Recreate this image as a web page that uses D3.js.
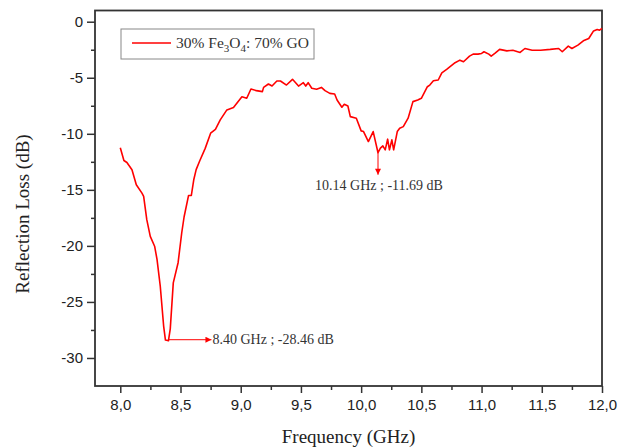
<!DOCTYPE html>
<html>
<head>
<meta charset="utf-8">
<script src="https://cdn.jsdelivr.net/npm/d3@7"></script>
<style>
  body { margin: 0; background: #fff; }
  .axis text { font-family: "Liberation Sans", Arial, sans-serif; font-size: 15px; fill: #222; }
  .axis path { display: none; }
  .axis line { stroke: #333; stroke-width: 1.5; }
</style>
</head>
<body>
<div id="chart"></div>
<script>
// values
const freq = [8.00, 8.03, 8.055, 8.097, 8.133, 8.18, 8.194, 8.22, 8.249, 8.285, 8.305, 8.332, 8.36, 8.375, 8.40,
  8.415, 8.44, 8.48, 8.51, 8.53, 8.567, 8.59, 8.61, 8.63, 8.66, 8.705, 8.75, 8.79, 8.83, 8.885, 8.94,
  9.01, 9.05, 9.085, 9.13, 9.18, 9.19, 9.23, 9.26, 9.30, 9.33, 9.38, 9.43, 9.48, 9.52, 9.54, 9.56, 9.59,
  9.63, 9.67, 9.70, 9.74, 9.78, 9.80, 9.84, 9.86, 9.89, 9.91, 9.96, 10.00, 10.02, 10.06, 10.10, 10.14,
  10.16, 10.18, 10.20, 10.22, 10.235, 10.255, 10.27, 10.30, 10.32, 10.35, 10.39, 10.43, 10.47, 10.50,
  10.55, 10.57, 10.60, 10.64, 10.67, 10.71, 10.78, 10.82, 10.85, 10.90, 10.93, 10.97, 11.00, 11.02,
  11.06, 11.08, 11.11, 11.15, 11.21, 11.26, 11.32, 11.36, 11.42, 11.49, 11.57, 11.64, 11.67, 11.72,
  11.75, 11.80, 11.845, 11.89, 11.93, 11.96, 11.98, 12.00];
const reflLoss = [-11.25, -12.38, -12.56, -13.2, -14.55, -15.29, -15.58, -17.66, -19.15, -20.03, -21.2, -23.6, -27.15, -28.40, -28.46,
  -27.4, -23.3, -21.5, -18.85, -17.4, -15.5, -15.5, -14.1, -13.2, -12.4, -11.3, -9.95, -9.6, -8.76, -7.87, -7.65,
  -6.69, -6.83, -6.0, -6.15, -6.24, -5.86, -5.56, -5.74, -5.29, -5.29, -5.65, -5.14, -5.74, -5.44, -5.74, -5.44, -5.94,
  -6.03, -5.86, -6.15, -6.39, -6.45, -6.98, -7.63, -7.37, -7.52, -8.47, -8.61, -9.74, -9.8, -10.69, -9.8, -11.69,
  -11.28, -11.08, -11.43, -10.48, -11.43, -10.54, -11.43, -9.8, -9.5, -9.36, -8.61, -7.13, -6.98, -6.83,
  -5.8, -5.65, -5.27, -5.2, -4.56, -4.25, -3.66, -3.43, -3.57, -3.07, -2.89, -2.89, -2.83, -2.68,
  -2.89, -3.07, -2.83, -2.47, -2.6, -2.54, -2.74, -2.39, -2.54, -2.54, -2.47, -2.39, -2.68, -2.18,
  -2.39, -2.09, -1.7, -1.5, -0.82, -0.69, -0.76, -0.6];
const xTicks = [8.0, 8.5, 9.0, 9.5, 10.0, 10.5, 11.0, 11.5, 12.0];
const xMinor = [8.25, 8.75, 9.25, 9.75, 10.25, 10.75, 11.25, 11.75];
const yTicks = [0, -5, -10, -15, -20, -25, -30];
const yMinor = [-2.5, -7.5, -12.5, -17.5, -22.5, -27.5];
const peaks = [
  {f: 8.40, rl: -28.46, label: "8.40 GHz ; -28.46 dB", dir: "right"},
  {f: 10.14, rl: -11.69, label: "10.14 GHz ; -11.69 dB", dir: "down"}
];

const W = 618, H = 448;
const margin = {top: 10.5, right: 16, bottom: 62, left: 95};

const svg = d3.select('#chart').append('svg')
  .attr('width', W).attr('height', H);

const x = d3.scaleLinear().domain([7.79, 12.0]).range([margin.left, W - margin.right]);
const y = d3.scaleLinear().domain([-32.5, 1.0]).range([H - margin.bottom, margin.top]);

const defs = svg.append('defs');
defs.append('marker')
  .attr('id', 'arrow')
  .attr('viewBox', '0 0 10 10')
  .attr('refX', 10).attr('refY', 5)
  .attr('markerWidth', 8).attr('markerHeight', 6)
  .attr('markerUnits', 'userSpaceOnUse')
  .attr('orient', 'auto')
  .append('path').attr('d', 'M0,0L10,5L0,10Z').attr('fill', '#ff0000');

// axes (major + minor ticks)
svg.append('g').attr('class', 'axis')
  .attr('transform', 'translate(0,' + (H - margin.bottom) + ')')
  .call(d3.axisBottom(x).tickValues(xTicks).tickSize(7).tickPadding(6)
    .tickFormat(d => d3.format('.1f')(d).replace('.', ',')));
svg.append('g').attr('class', 'axis')
  .attr('transform', 'translate(0,' + (H - margin.bottom) + ')')
  .call(d3.axisBottom(x).tickValues(xMinor).tickSize(4).tickFormat(''));

svg.append('g').attr('class', 'axis')
  .attr('transform', 'translate(' + margin.left + ',0)')
  .call(d3.axisLeft(y).tickValues(yTicks).tickSize(8).tickPadding(4).tickFormat(d => String(d)));
svg.append('g').attr('class', 'axis')
  .attr('transform', 'translate(' + margin.left + ',0)')
  .call(d3.axisLeft(y).tickValues(yMinor).tickSize(4).tickFormat(''));

// frame
svg.append('rect')
  .attr('x', margin.left).attr('y', margin.top)
  .attr('width', W - margin.right - margin.left)
  .attr('height', H - margin.bottom - margin.top)
  .attr('fill', 'none').attr('stroke', '#333').attr('stroke-width', 1.8);

// curve
const line = d3.line().x(d => x(d[0])).y(d => y(d[1]));
svg.append('path')
  .datum(d3.zip(freq, reflLoss))
  .attr('d', line)
  .attr('fill', 'none')
  .attr('stroke', '#ff0000')
  .attr('stroke-width', 1.6)
  .attr('stroke-linejoin', 'round');

// peak annotations
peaks.forEach(p => {
  const px = x(p.f), py = y(p.rl);
  if (p.dir === 'right') {
    svg.append('line')
      .attr('x1', px).attr('y1', py - 1).attr('x2', px + 43).attr('y2', py - 1)
      .attr('stroke', '#ff0000').attr('stroke-width', 1)
      .attr('marker-end', 'url(#arrow)');
    svg.append('text')
      .attr('x', px + 44).attr('y', py + 3)
      .attr('font-family', '"Liberation Serif", "Times New Roman", serif')
      .attr('font-size', 14).attr('fill', '#333')
      .text(p.label);
  } else {
    svg.append('line')
      .attr('x1', px).attr('y1', py).attr('x2', px).attr('y2', py + 22)
      .attr('stroke', '#ff0000').attr('stroke-width', 1)
      .attr('marker-end', 'url(#arrow)');
    svg.append('text')
      .attr('x', px + 1).attr('y', py + 37)
      .attr('text-anchor', 'middle')
      .attr('font-family', '"Liberation Serif", "Times New Roman", serif')
      .attr('font-size', 14).attr('fill', '#333')
      .text(p.label);
  }
});

// legend
const lg = svg.append('g').attr('transform', 'translate(121,29)');
lg.append('rect').attr('width', 193).attr('height', 30)
  .attr('fill', '#fff').attr('stroke', '#888').attr('stroke-width', 1);
lg.append('line').attr('x1', 11).attr('x2', 50).attr('y1', 14).attr('y2', 14)
  .attr('stroke', '#ff0000').attr('stroke-width', 1.6);
const lt = lg.append('text').attr('x', 55).attr('y', 19)
  .attr('font-family', '"Liberation Serif", "Times New Roman", serif')
  .attr('font-size', 15.5).attr('fill', '#333');
lt.append('tspan').text('30% Fe');
lt.append('tspan').attr('font-size', 11).attr('dy', 4).text('3');
lt.append('tspan').attr('dy', -4).text('O');
lt.append('tspan').attr('font-size', 11).attr('dy', 4).text('4');
lt.append('tspan').attr('dy', -4).text(': 70% GO');

// axis titles
svg.append('text')
  .attr('x', (margin.left + W - margin.right) / 2).attr('y', 443)
  .attr('text-anchor', 'middle')
  .attr('font-family', '"Liberation Serif", "Times New Roman", serif')
  .attr('font-size', 19).attr('fill', '#222')
  .text('Frequency (GHz)');
svg.append('text')
  .attr('transform', 'translate(29,214) rotate(-90)')
  .attr('text-anchor', 'middle')
  .attr('font-family', '"Liberation Serif", "Times New Roman", serif')
  .attr('font-size', 19).attr('fill', '#222')
  .text('Reflection Loss (dB)');
</script>
</body>
</html>
